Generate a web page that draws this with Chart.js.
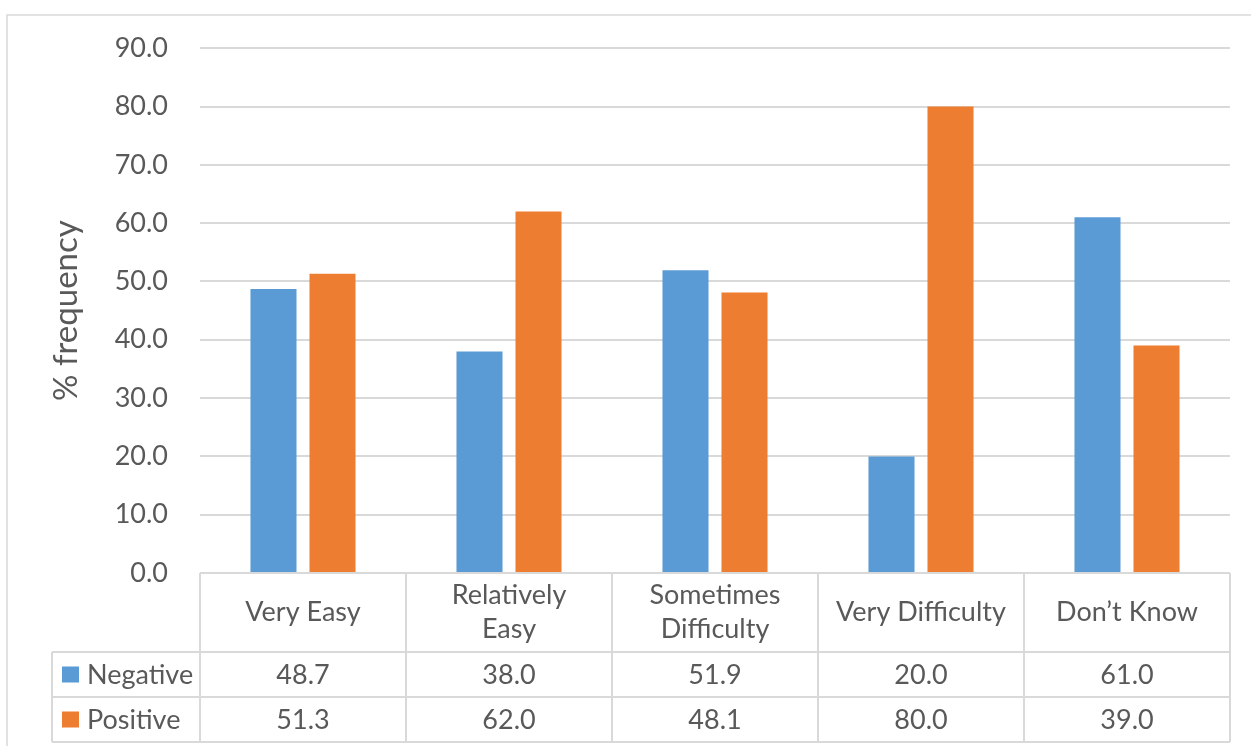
<!DOCTYPE html>
<html>
<head>
<meta charset="utf-8">
<script src="https://cdn.jsdelivr.net/npm/chart.js@4/dist/chart.umd.min.js"></script>
<style>
  html, body { margin: 0; padding: 0; background: #ffffff; }
  #wrap { width: 1251px; height: 746px; position: relative; }
</style>
</head>
<body>
<div id="wrap"><canvas id="c" width="1251" height="746"></canvas></div>
<script>
// Categories (multi-line labels are split into lines)
const categories = [
  ["Very Easy"],
  ["Relatively", "Easy"],
  ["Sometimes", "Difficulty"],
  ["Very Difficulty"],
  ["Don\u2019t Know"]
];
const negative = [48.7, 38.0, 51.9, 20.0, 61.0];
const positive = [51.3, 62.0, 48.1, 80.0, 39.0];
const seriesNames = ["Negative", "Positive"];
const yTicks = [0, 10, 20, 30, 40, 50, 60, 70, 80, 90];
const yTitle = "% frequency";

const BLUE = "#5B9BD5";
const ORANGE = "#ED7D31";
const TEXT = "#595959";
const LINE = "#d9d9d9";
const FONT = "Lato, 'Open Sans', sans-serif";

// Chart frame plus the data table underneath the plot
const tablePlugin = {
  id: "dataTable",
  beforeDraw(chart) {
    const ctx = chart.ctx;
    ctx.save();
    ctx.strokeStyle = LINE;
    ctx.lineWidth = 1.5;
    ctx.beginPath();
    ctx.moveTo(7, 746);
    ctx.lineTo(7, 15);
    ctx.lineTo(1251, 15);
    ctx.stroke();
    ctx.restore();
  },
  afterDraw(chart) {
    const ctx = chart.ctx;
    const area = chart.chartArea;
    const xs = chart.scales.x;
    const n = categories.length;
    const colW = (area.right - area.left) / n;
    const top = area.bottom;
    const catRowH = 79;
    const rowH = 45;
    const legendLeft = 52;
    const r1 = top + catRowH;
    const r2 = r1 + rowH;
    const r3 = r2 + rowH;

    ctx.save();
    ctx.strokeStyle = LINE;
    ctx.lineWidth = 2;
    ctx.beginPath();
    // horizontal rules
    ctx.moveTo(area.left, top); ctx.lineTo(area.right, top);
    ctx.moveTo(legendLeft, r1); ctx.lineTo(area.right, r1);
    ctx.moveTo(legendLeft, r2); ctx.lineTo(area.right, r2);
    ctx.moveTo(legendLeft, r3); ctx.lineTo(area.right, r3);
    // vertical rules
    ctx.moveTo(legendLeft, r1); ctx.lineTo(legendLeft, r3);
    for (let i = 0; i <= n; i++) {
      const x = area.left + i * colW;
      ctx.moveTo(x, top); ctx.lineTo(x, r3);
    }
    ctx.stroke();

    ctx.fillStyle = TEXT;
    ctx.font = "27px " + FONT;
    ctx.textAlign = "center";
    ctx.textBaseline = "middle";
    const catMid = top + catRowH / 2;
    categories.forEach((lines, i) => {
      const cx = xs.getPixelForValue(i);
      const lh = 34;
      const y0 = catMid - (lines.length - 1) * lh / 2;
      lines.forEach((t, k) => ctx.fillText(t, cx, y0 + k * lh));
      ctx.fillText(negative[i].toFixed(1), cx, r1 + rowH / 2 + 1);
      ctx.fillText(positive[i].toFixed(1), cx, r2 + rowH / 2 + 1);
    });

    // legend keys in the first column
    const keys = [[seriesNames[0], BLUE, r1], [seriesNames[1], ORANGE, r2]];
    ctx.textAlign = "left";
    keys.forEach(([name, col, y]) => {
      const mid = y + rowH / 2;
      ctx.fillStyle = col;
      ctx.fillRect(62, mid - 8, 17, 16);
      ctx.fillStyle = TEXT;
      ctx.fillText(name, 87, mid + 1);
    });
    ctx.restore();
  }
};

new Chart(document.getElementById("c"), {
  type: "bar",
  data: {
    labels: categories.map(l => l.join(" ")),
    datasets: [
      { label: seriesNames[0], data: negative, backgroundColor: BLUE },
      { label: seriesNames[1], data: positive, backgroundColor: ORANGE }
    ]
  },
  options: {
    responsive: false,
    animation: false,
    devicePixelRatio: 1,
    layout: { padding: { top: 48, bottom: 173, right: 21, left: 0 } },
    plugins: { legend: { display: false }, tooltip: { enabled: false } },
    datasets: { bar: { categoryPercentage: 0.573, barPercentage: 0.78 } },
    scales: {
      x: { display: false, offset: true },
      y: {
        min: 0, max: 90,
        afterFit(scale) { scale.width = 200; },
        afterBuildTicks(scale) { scale.ticks = yTicks.map(v => ({ value: v })); },
        ticks: {
          color: TEXT,
          font: { family: FONT, size: 27 },
          padding: 32,
          callback: v => Number(v).toFixed(1)
        },
        grid: { color: LINE, lineWidth: 2, drawTicks: false },
        border: { display: false },
        title: {
          display: true,
          text: yTitle,
          color: TEXT,
          font: { family: FONT, size: 33 },
          padding: { top: 47, bottom: 0 }
        }
      }
    }
  },
  plugins: [tablePlugin]
});
</script>
</body>
</html>
